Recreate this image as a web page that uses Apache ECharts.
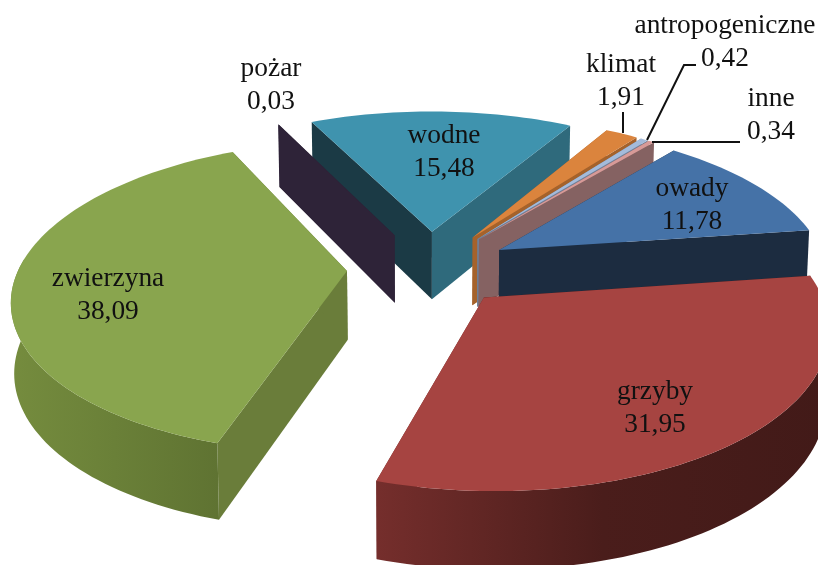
<!DOCTYPE html>
<html><head><meta charset="utf-8">
<style>html,body{margin:0;padding:0;background:#fff}#c{width:818px;height:565px}</style>
<script src="https://cdn.jsdelivr.net/npm/echarts@6/dist/echarts.min.js"></script>
</head><body><div id="c"></div>
<script>
// data, in pie order (clockwise from the first slice)
const names = ['owady','grzyby','zwierzyna','pożar','wodne','klimat','antropogeniczne','inne'];
const values = [11.78,31.95,38.09,0.03,15.48,1.91,0.42,0.34];

// styles, same order
const topColors  = ['#4572A7','#A64441','#89A54E','#2E2338','#3F93AE','#DB843D','#A4BBDB','#D79A98'];
const edgeStart  = ['#1C2C40','#421A18','#6A7D3A','#2E2338','#1B3A45','#A5622B','#6E7F98','#856262'];
const edgeEnd    = ['#1C2C40','#6E2B29','#6A7D3A','#2E2338','#2F6A7C','#A5622B','#6E7F98','#856262'];
const rimStops   = [
  ['#1C2C40','#1C2C40'],['#752E2C','#4A1D1B','#421A18'],['#758C3E','#6A8038','#5F7332'],
  ['#2E2338','#2E2338'],['#1B3A45','#2F6A7C'],['#A5622B','#A5622B'],['#6E7F98','#6E7F98'],['#856262','#856262']
];
const paintOrder = [4,3,5,6,7,0,2,1];
const labelCenters = [[692,205],[655,408],[108,295],[271,85],[444,152],[621,81],[725,42],[771,115]];
const leaders = [
  [[623,112],[623,133]],
  [[696,65],[684,65],[647,140]],
  [[740,142],[652,142]]
];

// 3D view of the pie plane
const view = {ox:429, oy:268, k:0.46, p:0.0005, radius:328, explode:82, height:69, converge:0.008, startDeg:-50.4};
const total = values.reduce((a,b)=>a+b,0);
function project(X,Y,down){
  const s = 1/(1 - view.p*Y);
  let x = view.ox + s*X, y = view.oy + s*view.k*Y;
  if(down){ x += (view.ox-x)*view.converge; y += view.height*Math.pow(s,0.6); }
  return [x,y];
}
const spans = []; let acc = view.startDeg;
values.forEach(v=>{ const d = v/total*360; spans.push([acc,acc+d]); acc += d; });

function renderSlice(params, api){
  const i = api.value(0), z = params.dataIndex*5;
  const [a0,a1] = spans[i];
  const mid = (a0+a1)/2*Math.PI/180;
  const ax = view.explode*Math.cos(mid), ay = view.explode*Math.sin(mid);
  const n = Math.max(2,Math.ceil((a1-a0)/1.5));
  const rim = [], facing = [];
  for(let j=0;j<=n;j++){
    const t=(a0+(a1-a0)*j/n)*Math.PI/180;
    rim.push([ax+view.radius*Math.cos(t), ay+view.radius*Math.sin(t)]);
    if(Math.sin(t)>-0.08) facing.push(j);
  }
  const A=project(ax,ay,false), Ad=project(ax,ay,true);
  const rt=rim.map(p=>project(p[0],p[1],false)), rb=rim.map(p=>project(p[0],p[1],true));
  const poly=(pts,fill,zz)=>({type:'polygon',shape:{points:pts},style:{fill:fill},z2:z+zz,silent:true});
  const stops=rimStops[i], grad=new echarts.graphic.LinearGradient(0,0,1,0,stops.map((c,k)=>({offset:k/(stops.length-1),color:c})));
  const els=[
    poly([A,rt[0],rb[0],Ad],edgeStart[i],0),
    poly([A,rt[n],rb[n],Ad],edgeEnd[i],0)
  ];
  if(facing.length>1){
    els.push(poly(facing.map(j=>rt[j]).concat(facing.map(j=>rb[j]).reverse()),grad,1));
  }
  els.push(poly([A].concat(rt),topColors[i],2));
  const c=labelCenters[i];
  els.push({type:'text',z2:200,silent:true,style:{
    x:c[0],y:c[1],text:names[i]+'\n'+values[i].toFixed(2).replace('.',','),
    fill:'#111',font:'27.4px "Liberation Serif"',lineHeight:33,align:'center',verticalAlign:'middle'}});
  return {type:'group',children:els};
}
const chart=echarts.init(document.getElementById('c'),null,{renderer:'canvas'});
chart.setOption({
  animation:false, backgroundColor:'#fff',
  series:[{
    type:'custom', coordinateSystem:'none', renderItem:renderSlice,
    data:paintOrder.map(i=>[i,values[i]])
  }],
  graphic:leaders.map(pts=>({type:'polyline',z:10,shape:{points:pts},style:{stroke:'#111',lineWidth:2,fill:null},silent:true}))
});
</script></body></html>
